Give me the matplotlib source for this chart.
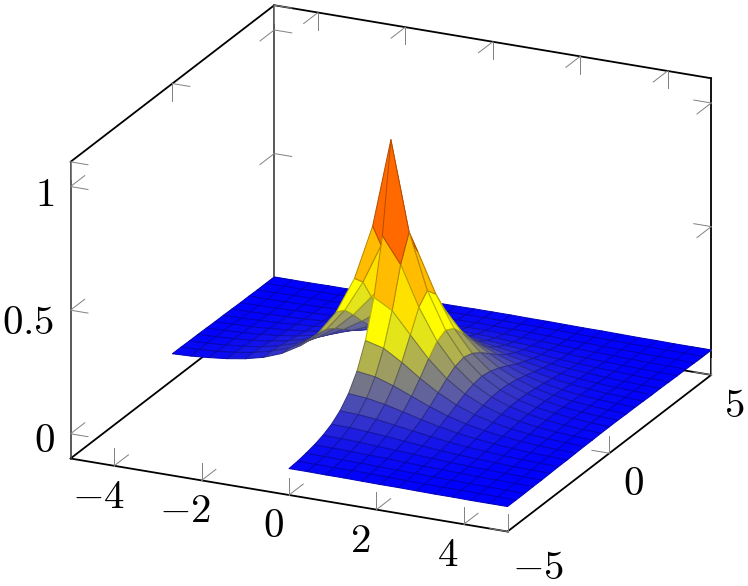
import numpy as np
import matplotlib
matplotlib.use("Agg")
import matplotlib.pyplot as plt
from matplotlib.colors import LinearSegmentedColormap
from mpl_toolkits.mplot3d import proj3d
from mpl_toolkits.mplot3d.art3d import Poly3DCollection

plt.rcParams['mathtext.fontset'] = 'cm'

# sample positions along each axis
x_samples = [-5.000, -4.583, -4.167, -3.750, -3.333, -2.917, -2.500, -2.083, -1.667, -1.250, -0.833, -0.417, 0.000,
             0.417, 0.833, 1.250, 1.667, 2.083, 2.500, 2.917, 3.333, 3.750, 4.167, 4.583, 5.000]
y_samples = list(x_samples)

# surface heights, by distance from the peak along y (rows) and x (columns)
z_quadrant = [
    [1.020, .659, .435, .287, .189, .125, .082, .054, .036, .024, .016, .010, .007],
    [.659, .555, .394, .268, .179, .119, .079, .053, .035, .023, .015, .010, .007],
    [.435, .394, .308, .223, .155, .106, .072, .048, .032, .021, .014, .009, .006],
    [.287, .268, .223, .171, .125, .088, .061, .042, .028, .019, .013, .009, .006],
    [.189, .179, .155, .125, .095, .069, .050, .035, .024, .017, .011, .008, .005],
    [.125, .119, .106, .088, .069, .053, .039, .028, .020, .014, .009, .007, .004],
    [.082, .079, .072, .061, .050, .039, .029, .021, .016, .011, .008, .005, .004],
    [.054, .053, .048, .042, .035, .028, .021, .016, .012, .009, .006, .004, .003],
    [.036, .035, .032, .028, .024, .020, .016, .012, .009, .007, .005, .003, .002],
    [.024, .023, .021, .019, .017, .014, .011, .009, .007, .005, .004, .003, .002],
    [.016, .015, .014, .013, .011, .009, .008, .006, .005, .004, .003, .002, .001],
    [.010, .010, .009, .009, .008, .007, .005, .004, .003, .003, .002, .002, .001],
    [.007, .007, .006, .006, .005, .004, .004, .003, .002, .002, .001, .001, .001],
]

x_ticks = [-4, -2, 0, 2, 4]
y_ticks = [-5, 0, 5]
z_ticks = [0, 0.5, 1]
x_tick_labels = ['$-4$', '$-2$', '$0$', '$2$', '$4$']
y_tick_labels = ['$-5$', '$0$', '$5$']
z_tick_labels = ['$0$', '$0.5$', '$1$']

XLIM = (-5, 5)
YLIM = (-5, 5)
ZLIM = (-0.1, 1.1)
W, H = 748, 586

fig = plt.figure(figsize=(W / 100, H / 100), dpi=100)
fig.patch.set_facecolor('white')
ax = fig.add_axes([0, 0, 1, 1], projection='3d', proj_type='ortho')
ax.set_box_aspect((1, 1, 0.6590))
ax.view_init(elev=21.0, azim=-65)
ax.set_xlim(*XLIM)
ax.set_ylim(*YLIM)
ax.set_zlim(*ZLIM)
ax.set_axis_off()
ax.computed_zorder = False


def to_px(x, y, z):
    xp, yp, _ = proj3d.proj_transform(x, y, z, ax.get_proj())
    ax.apply_aspect()
    return ax.transData.transform((xp, yp))


# place the box: corner (-5,-5,zmin) at pixel (70.5, 458.5), x edge 437 px wide
S = 800.0
l, b = 0.0, 0.0
for _ in range(3):
    ax.set_position([l / W, b / H, S / W, S / H])
    a = to_px(XLIM[0], YLIM[0], ZLIM[0])
    c = to_px(XLIM[1], YLIM[0], ZLIM[0])
    k = 437.0 / (c[0] - a[0])
    S *= k
    ax.set_position([l / W, b / H, S / W, S / H])
    a = to_px(XLIM[0], YLIM[0], ZLIM[0])
    l += 70.5 - a[0]
    b += (H - 458.5) - a[1]

# frame
BLACK = dict(color='black', lw=1.3, zorder=1, solid_capstyle='round')
DARK = dict(color='#3c3c3c', lw=1.2, zorder=1)
x0, x1 = XLIM
y0, y1 = YLIM
z0, z1 = ZLIM
for p, q in [((x0, y0, z0), (x1, y0, z0)), ((x1, y0, z0), (x1, y1, z0)),
             ((x1, y1, z0), (x0, y1, z0)), ((x0, y1, z0), (x0, y0, z0)),
             ((x0, y0, z1), (x0, y1, z1)), ((x0, y1, z1), (x1, y1, z1)),
             ((x1, y1, z0), (x1, y1, z1))]:
    ax.plot(*zip(p, q), **BLACK)
for p, q in [((x0, y0, z0), (x0, y0, z1)), ((x0, y1, z0), (x0, y1, z1))]:
    ax.plot(*zip(p, q), **DARK)

# grey ticks, each with two strokes into the box
TICK = dict(color='#808080', lw=0.7, zorder=1.5)
TX, TY, TZ = 0.40, 0.70, 0.07


def stroke(p, d):
    ax.plot([p[0], p[0] + d[0]], [p[1], p[1] + d[1]], [p[2], p[2] + d[2]], **TICK)


for t in x_ticks:
    stroke((t, y0, z0), (0, 0, TZ))
    stroke((t, y0, z0), (0, TY, 0))
    stroke((t, y1, z1), (0, 0, -TZ))
    stroke((t, y1, z1), (0, -TY, 0))
for t in y_ticks:
    stroke((x1, t, z0), (0, 0, TZ))
    stroke((x1, t, z0), (-TX, 0, 0))
    stroke((x0, t, z1), (0, 0, -TZ))
    stroke((x0, t, z1), (TX, 0, 0))
for t in z_ticks:
    stroke((x0, y0, t), (TX, 0, 0))
    stroke((x0, y0, t), (0, TY, 0))
    stroke((x0, y1, t), (TX, 0, 0))
    stroke((x0, y1, t), (0, -TY, 0))
    stroke((x1, y1, t), (-TX, 0, 0))
    stroke((x1, y1, t), (0, -TY, 0))

# surface
cmap = LinearSegmentedColormap.from_list('hot_pgf', ['#0000ff', '#ffff00', '#ff8000', '#ff0000'])
n = len(x_samples)
mid = n // 2
Q = np.array(z_quadrant)
Z = np.full((n, n), np.nan)
for iy in range(n):
    for ix in range(n):
        if not (x_samples[ix] < 0 and y_samples[iy] < 0):
            Z[iy, ix] = Q[abs(iy - mid), abs(ix - mid)]

verts, faces, edges = [], [], []
for iy in range(n - 1):
    for ix in range(n - 1):
        idx = [(iy, ix), (iy, ix + 1), (iy + 1, ix + 1), (iy + 1, ix)]
        zs = [Z[a, b_] for a, b_ in idx]
        if np.isnan(zs).any():
            continue
        verts.append([(x_samples[b_], y_samples[a], Z[a, b_]) for a, b_ in idx])
        col = np.array(cmap(float(np.mean(zs))))
        faces.append(col)
        edges.append(np.r_[col[:3] * 0.72, 1.0])
poly = Poly3DCollection(verts, facecolors=faces, edgecolors=edges, linewidths=0.72, zorder=2, zsort='average')
ax.add_collection3d(poly)

# tick labels, offset from their ticks in pixels (x right, y up)
FS = 29.5


def label(p, text, off):
    xp, yp, _ = proj3d.proj_transform(p[0], p[1], p[2], ax.get_proj())
    ax.annotate(text, xy=(xp, yp), xycoords='data', xytext=off, textcoords='offset pixels',
                ha='center', va='center', fontsize=FS, color='black', annotation_clip=False, zorder=5)


for t, s in zip(x_ticks, x_tick_labels):
    label((t, y0, z0), s, (-16, -31))
for t, s, off in zip(y_ticks, y_tick_labels, [(31, -36), (24, -31), (23, -31)]):
    label((x1, t, z0), s, off)
for t, s, off in zip(z_ticks, z_tick_labels, [(-26, -7), (-42, -12.5), (-26, -8.5)]):
    label((x0, y0, t), s, off)

fig.savefig('out.png', dpi=100, facecolor='white')
